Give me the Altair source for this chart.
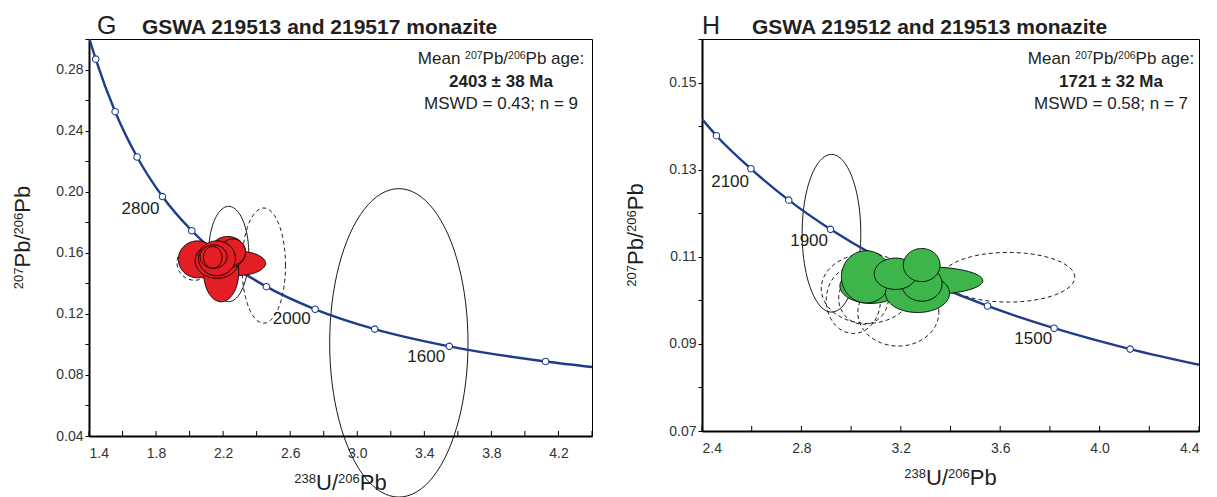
import math
import altair as alt
import pandas as pd

FONT = "Liberation Sans"
INK = "#231f20"
NAVY = "#1f3b8c"
RED = "#e31e24"
GREEN = "#3db54a"

# ---------------- Panel G ----------------
g_letter = "G"
g_title = "GSWA 219513 and 219517 monazite"
g_age_line = "2403 ± 38 Ma"
g_stat_line = "MSWD = 0.43; n = 9"
g_xdom = [1.4, 4.4]
g_ydom = [0.04, 0.30]
g_xticks = [1.4, 1.6, 1.8, 2.0, 2.2, 2.4, 2.6, 2.8, 3.0, 3.2, 3.4, 3.6, 3.8, 4.0, 4.2, 4.4]
g_xlabels = ["1.4", "1.8", "2.2", "2.6", "3.0", "3.4", "3.8", "4.2"]
g_yticks = [0.04, 0.06, 0.08, 0.10, 0.12, 0.14, 0.16, 0.18, 0.20, 0.22, 0.24, 0.26, 0.28, 0.30]
g_ylabels = ["0.04", "0.08", "0.12", "0.16", "0.20", "0.24", "0.28"]
g_curve_x = [1.387, 1.440, 1.556, 1.687, 1.838, 2.013, 2.217, 2.458, 2.749, 3.104, 3.549, 4.123, 4.40]
g_curve_y = [0.3058, 0.2868, 0.2524, 0.2227, 0.1968, 0.1744, 0.1548, 0.1378, 0.1230, 0.1100, 0.0987, 0.0888, 0.0852]
g_mark_x = [1.440, 1.556, 1.687, 1.838, 2.013, 2.217, 2.458, 2.749, 3.104, 3.549, 4.123]
g_mark_y = [0.2868, 0.2524, 0.2227, 0.1968, 0.1744, 0.1548, 0.1378, 0.1230, 0.1100, 0.0987, 0.0888]
g_age_text = ["2800", "2000", "1600"]
g_age_x = [1.707, 2.609, 3.411]
g_age_y = [0.1887, 0.1163, 0.0917]
# filled (accepted) analyses: centre x, centre y, half-width, half-height
g_fill_cx = [2.048, 2.278, 2.188, 2.163, 2.228, 2.258, 2.163, 2.143, 2.138]
g_fill_cy = [0.1557, 0.1531, 0.1476, 0.1548, 0.1603, 0.1606, 0.1564, 0.1575, 0.1570]
g_fill_rx = [0.115, 0.175, 0.105, 0.130, 0.105, 0.075, 0.110, 0.080, 0.055]
g_fill_ry = [0.0121, 0.0081, 0.0197, 0.0115, 0.0104, 0.0085, 0.0114, 0.0077, 0.0071]
# dashed (excluded) analyses
g_dash_cx = [2.442, 2.030]
g_dash_cy = [0.1516, 0.1535]
g_dash_rx = [0.130, 0.105]
g_dash_ry = [0.0377, 0.0115]
# thin solid (excluded) analyses
g_line_cx = [2.233, 3.248]
g_line_cy = [0.1592, 0.1010]
g_line_rx = [0.120, 0.4125]
g_line_ry = [0.0312, 0.1010]

# ---------------- Panel H ----------------
h_letter = "H"
h_title = "GSWA 219512 and 219513 monazite"
h_age_line = "1721 ± 32 Ma"
h_stat_line = "MSWD = 0.58; n = 7"
h_xdom = [2.4, 4.4]
h_ydom = [0.07, 0.16]
h_xticks = [2.4, 2.6, 2.8, 3.0, 3.2, 3.4, 3.6, 3.8, 4.0, 4.2, 4.4]
h_xlabels = ["2.4", "2.8", "3.2", "3.6", "4.0", "4.4"]
h_yticks = [0.07, 0.08, 0.09, 0.10, 0.11, 0.12, 0.13, 0.14, 0.15, 0.16]
h_ylabels = ["0.07", "0.09", "0.11", "0.13", "0.15"]
h_curve_x = [2.40, 2.458, 2.597, 2.749, 2.917, 3.104, 3.314, 3.549, 3.817, 4.123, 4.40]
h_curve_y = [0.1416, 0.1378, 0.1302, 0.1230, 0.1163, 0.1100, 0.1042, 0.0987, 0.0936, 0.0888, 0.0852]
h_mark_x = [2.458, 2.597, 2.749, 2.917, 3.104, 3.314, 3.549, 3.817, 4.123]
h_mark_y = [0.1378, 0.1302, 0.1230, 0.1163, 0.1100, 0.1042, 0.0987, 0.0936, 0.0888]
h_age_text = ["2100", "1900", "1500"]
h_age_x = [2.513, 2.831, 3.733]
h_age_y = [0.1272, 0.1137, 0.0912]
h_fill_cx = [3.080, 3.300, 3.061, 3.267, 3.285, 3.179, 3.284]
h_fill_cy = [0.1033, 0.1045, 0.1054, 0.1016, 0.1038, 0.1061, 0.1081]
h_fill_rx = [0.125, 0.230, 0.100, 0.129, 0.081, 0.086, 0.074]
h_fill_ry = [0.0040, 0.0032, 0.0060, 0.0044, 0.0040, 0.0036, 0.0038]
h_dash_cx = [3.633, 3.065, 3.009, 3.190, 3.050]
h_dash_cy = [0.1053, 0.1027, 0.1000, 0.0972, 0.1005]
h_dash_rx = [0.267, 0.185, 0.109, 0.163, 0.100]
h_dash_ry = [0.0057, 0.0080, 0.0076, 0.0077, 0.0060]
h_line_cx = [2.921]
h_line_cy = [0.1154]
h_line_rx = [0.118]
h_line_ry = [0.0181]

# text runs: (text, superscript?)
mean_runs = [("Mean ", False), ("207", True), ("Pb/", False), ("206", True), ("Pb age:", False)]
xtitle_runs = [("238", True), ("U/", False), ("206", True), ("Pb", False)]
ytitle_runs = [("207", True), ("Pb/", False), ("206", True), ("Pb", False)]

# Arial-like advance widths (em) used only to lay out the mixed-size text runs
ADV = {d: 0.556 for d in "0123456789"}
ADV.update({" ": 0.278, "U": 0.722, "/": 0.278, "P": 0.667, "b": 0.556, "M": 0.833,
            "e": 0.556, "a": 0.556, "n": 0.556, "g": 0.556, ":": 0.278})


def ellipse_df(cx, cy, rx, ry, prefix):
    rows = []
    for k, (a, b, c, d) in enumerate(zip(cx, cy, rx, ry)):
        for i in range(97):
            t = 2 * math.pi * i / 96
            rows.append({"id": f"{prefix}{k:02d}", "i": i,
                         "x": a + c * math.cos(t), "y": b + d * math.sin(t)})
    return pd.DataFrame(rows)


def label_expr(labels, fmt):
    arr = "[" + ",".join(f"'{s}'" for s in labels) + "]"
    return f"indexof({arr}, format(datum.value, '{fmt}')) >= 0 ? format(datum.value, '{fmt}') : ''"


def txt(s, x, y, **kw):
    return alt.Chart(pd.DataFrame({"t": [s]})).mark_text(font=FONT, color=INK, **kw).encode(
        text="t:N", x=alt.value(x), y=alt.value(y))


def run_layers(runs, cx, cy, size, sup_size, rotate=False):
    widths = [sum(ADV[c] for c in t) * (sup_size if sup else size) for t, sup in runs]
    pos = -sum(widths) / 2
    raise_px = 0.30 * size
    out = []
    for (t, sup), wd in zip(runs, widths):
        s = sup_size if sup else size
        r = raise_px if sup else 0
        if rotate:
            out.append(txt(t, cx - r, cy - pos, fontSize=s, align="left", baseline="alphabetic", angle=270))
        else:
            out.append(txt(t, cx + pos, cy - r, fontSize=s, align="left", baseline="alphabetic"))
        pos += wd
    return out


def panel(letter, title, age_line, stat_line, xdom, ydom, xticks, xlabels, yticks, ylabels,
          cx, cy, mx, my, at, ax, ay, fill, fcx, fcy, frx, fry,
          dcx, dcy, drx, dry, lcx, lcy, lrx, lry, w, h, letter_dx, title_dx, note_x):
    X = alt.X("x:Q", scale=alt.Scale(domain=xdom, nice=False, zero=False),
              axis=alt.Axis(values=xticks, ticks=False, grid=False, labelExpr=label_expr(xlabels, ".1f"),
                            title=None, labelPadding=10))
    Y = alt.Y("y:Q", scale=alt.Scale(domain=ydom, nice=False, zero=False),
              axis=alt.Axis(values=yticks, tickSize=4, grid=False, labelExpr=label_expr(ylabels, ".2f"),
                            title=None, labelPadding=2))

    tick_layer = alt.Chart(pd.DataFrame({"x": xticks})).mark_rule(color="black", strokeWidth=1).encode(
        x=X, y=alt.value(h), y2=alt.value(h - 5))

    dashed = alt.Chart(ellipse_df(dcx, dcy, drx, dry, "d")).mark_line(
        color="black", strokeWidth=0.9, strokeDash=[4, 3], clip=False).encode(
        x=X, y=Y, detail="id:N", order="i:Q")
    thin = alt.Chart(ellipse_df(lcx, lcy, lrx, lry, "s")).mark_line(
        color="black", strokeWidth=0.9, clip=False).encode(
        x=X, y=Y, detail="id:N", order="i:Q")

    curve = alt.Chart(pd.DataFrame({"x": cx, "y": cy})).mark_line(
        color=NAVY, strokeWidth=2.4, interpolate="monotone", clip=True).encode(x=X, y=Y, order="x:Q")
    marks = alt.Chart(pd.DataFrame({"x": mx, "y": my})).mark_point(
        shape="circle", filled=True, fill="white", stroke=NAVY, strokeWidth=1.1, size=42, opacity=1).encode(x=X, y=Y)
    ages = alt.Chart(pd.DataFrame({"x": ax, "y": ay, "t": at})).mark_text(
        font=FONT, fontSize=17, color=INK).encode(x=X, y=Y, text="t:N")

    filled = alt.Chart(ellipse_df(fcx, fcy, frx, fry, "f")).mark_line(
        fill=fill, stroke="black", strokeWidth=0.9, clip=False).encode(
        x=X, y=Y, detail="id:N", order="i:Q")

    texts = [
        txt(letter, letter_dx, -5, fontSize=25, align="left", baseline="alphabetic"),
        txt(title, title_dx, -5, fontSize=21, fontWeight="bold", align="left", baseline="alphabetic"),
        txt(age_line, note_x, 43, fontSize=17, fontWeight="bold", align="center", baseline="middle"),
        txt(stat_line, note_x, 65, fontSize=17, align="center", baseline="middle"),
    ]
    texts += run_layers(mean_runs, note_x, 25, 17, 10.5)
    texts += run_layers(xtitle_runs, w / 2, h + 54, 22, 13)
    texts += run_layers(ytitle_runs, -59, h / 2, 22, 13, rotate=True)

    return alt.layer(dashed, thin, curve, marks, filled, ages, tick_layer, *texts).properties(width=w, height=h)


G = panel(g_letter, g_title, g_age_line, g_stat_line, g_xdom, g_ydom, g_xticks, g_xlabels, g_yticks, g_ylabels,
          g_curve_x, g_curve_y, g_mark_x, g_mark_y, g_age_text, g_age_x, g_age_y, RED,
          g_fill_cx, g_fill_cy, g_fill_rx, g_fill_ry,
          g_dash_cx, g_dash_cy, g_dash_rx, g_dash_ry,
          g_line_cx, g_line_cy, g_line_rx, g_line_ry, 503, 397, 8, 53, 412)
H = panel(h_letter, h_title, h_age_line, h_stat_line, h_xdom, h_ydom, h_xticks, h_xlabels, h_yticks, h_ylabels,
          h_curve_x, h_curve_y, h_mark_x, h_mark_y, h_age_text, h_age_x, h_age_y, GREEN,
          h_fill_cx, h_fill_cy, h_fill_rx, h_fill_ry,
          h_dash_cx, h_dash_cy, h_dash_rx, h_dash_ry,
          h_line_cx, h_line_cy, h_line_rx, h_line_ry, 497, 392, 0, 50, 409)

chart = alt.hconcat(G, H, spacing=31).properties(
    padding={"left": 3, "top": 5, "right": 5, "bottom": 5}
).configure(
    background="white"
).configure_view(
    stroke="black", strokeWidth=1
).configure_axis(
    domainColor="black", domainWidth=2, tickColor="black",
    labelFont=FONT, labelFontSize=14, labelColor="#333333",
)

chart.save("out.html", embed_options={"renderer": "svg", "actions": False})
